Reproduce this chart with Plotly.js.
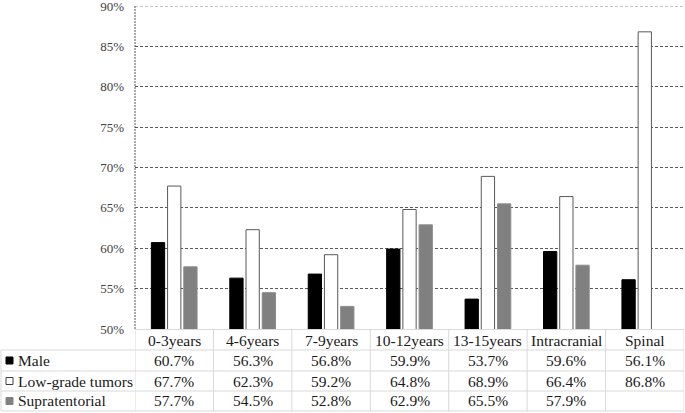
<!DOCTYPE html>
<html>
<head>
<meta charset="utf-8">
<script src="https://cdn.plot.ly/plotly-3.0.1.min.js"></script>
<style>html,body{margin:0;padding:0;background:#fff;}#chart{width:685px;height:413px;}</style>
</head>
<body>
<div id="chart"></div>
<script>
const categories = ["0-3years", "4-6years", "7-9years", "10-12years", "13-15years", "Intracranial", "Spinal"];
const seriesNames = ["Male", "Low-grade tumors", "Supratentorial"];
const male = [60.7, 56.3, 56.8, 59.9, 53.7, 59.6, 56.1];
const lowGrade = [67.7, 62.3, 59.2, 64.8, 68.9, 66.4, 86.8];
const supratentorial = [57.7, 54.5, 52.8, 62.9, 65.5, 57.9, null];
const yTicks = [50, 55, 60, 65, 70, 75, 80, 85, 90];

const W = 685, H = 413;
const M = {l: 135, r: 1, t: 6, b: 84};
const plotW = W - M.l - M.r, plotH = H - M.t - M.b;
const plotBottom = H - M.b;
const py = Y => (plotBottom - Y) / plotH;   // pixel y -> paper y
const px = X => (X - M.l) / plotW;          // pixel x -> paper x

const FONT = "Liberation Serif";
const TABLE_LINE = "#d9d9d9";

const seriesData = [male, lowGrade, supratentorial];
const styles = [
  {color: "#000000", line: {color: "#000000", width: 1}},
  {color: "#ffffff", line: {color: "#595959", width: 1}},
  {color: "#808080", line: {color: "#8c8c8c", width: 1}}
];

const traces = seriesData.map((vals, i) => ({
  type: "bar", name: seriesNames[i], x: categories, y: vals,
  marker: styles[i], hoverinfo: "skip", showlegend: false
}));

const rowLines = [350, 371, 391, 411];
const headerY = 340;
const rowCenters = [360.5, 381, 401];

const shapes = [];
// top gridline at the range edge
const yTop = yTicks[yTicks.length - 1];
shapes.push({type: "line", xref: "paper", yref: "y", x0: 0, x1: 1, y0: yTop, y1: yTop,
  line: {color: "#8c8c8c", width: 1, dash: "3px,2px"}});
// left dotted axis line
shapes.push({type: "line", xref: "paper", yref: "paper", x0: 0, x1: 0, y0: 0, y1: 1,
  line: {color: "#595959", width: 1, dash: "2px,1px"}});
// table vertical lines at category boundaries
for (let k = 0; k <= categories.length; k++) {
  shapes.push({type: "line", xref: "x", yref: "paper", x0: k - 0.5, x1: k - 0.5,
    y0: py(rowLines[rowLines.length - 1]), y1: 0, line: {color: TABLE_LINE, width: 1}});
}
// left border of legend column
shapes.push({type: "line", xref: "paper", yref: "paper", x0: px(1), x1: px(1),
  y0: py(rowLines[0]), y1: py(rowLines[rowLines.length - 1]), line: {color: TABLE_LINE, width: 1}});
// row lines
rowLines.forEach(Y => shapes.push({type: "line", xref: "paper", yref: "paper",
  x0: px(1), x1: 1, y0: py(Y), y1: py(Y), line: {color: TABLE_LINE, width: 1}}));
// legend keys
const keyStyles = [
  {fill: "#000000", line: "#000000"},
  {fill: "#ffffff", line: "#404040"},
  {fill: "#808080", line: "#808080"}
];
rowCenters.forEach((Y, i) => shapes.push({type: "rect", xref: "paper", yref: "paper",
  x0: px(6), x1: px(13), y0: py(Y + 3.5), y1: py(Y - 3.5),
  fillcolor: keyStyles[i].fill, line: {color: keyStyles[i].line, width: 1}}));

const annotations = [];
const tFont = {family: FONT, size: 15.5, color: "#1a1a1a"};
categories.forEach(c => annotations.push({xref: "x", yref: "paper", x: c, y: py(headerY),
  text: c, showarrow: false, xanchor: "center", yanchor: "middle", font: tFont}));
seriesData.forEach((vals, i) => {
  annotations.push({xref: "paper", yref: "paper", x: px(16), y: py(rowCenters[i]),
    text: seriesNames[i], showarrow: false, xanchor: "left", yanchor: "middle", font: tFont});
  vals.forEach((v, j) => {
    if (v == null) return;
    annotations.push({xref: "x", yref: "paper", x: categories[j], y: py(rowCenters[i]),
      text: v.toFixed(1) + "%", showarrow: false, xanchor: "center", yanchor: "middle", font: tFont});
  });
});

const layout = {
  width: W, height: H, margin: M,
  paper_bgcolor: "#ffffff", plot_bgcolor: "#ffffff",
  barmode: "group", bargap: 0.38, bargroupgap: 0.18,
  font: {family: FONT},
  xaxis: {type: "category", showticklabels: false, ticks: "", showgrid: false,
    zeroline: false, showline: true, linecolor: TABLE_LINE, linewidth: 1,
    range: [-0.5, categories.length - 0.5], fixedrange: true},
  yaxis: {range: [50, 90], tickvals: yTicks, ticktext: yTicks.map(v => v + "%"),
    showgrid: true, gridcolor: "#595959", griddash: "3px,2px", gridwidth: 1,
    zeroline: false, showline: false, ticks: "", ticklabelstandoff: 10,
    ticklabeloverflow: "allow",
    tickfont: {family: FONT, size: 13, color: "#404040"}, fixedrange: true},
  shapes: shapes, annotations: annotations, showlegend: false
};

Plotly.newPlot("chart", traces, layout, {displayModeBar: false, staticPlot: true});
</script>
</body>
</html>
